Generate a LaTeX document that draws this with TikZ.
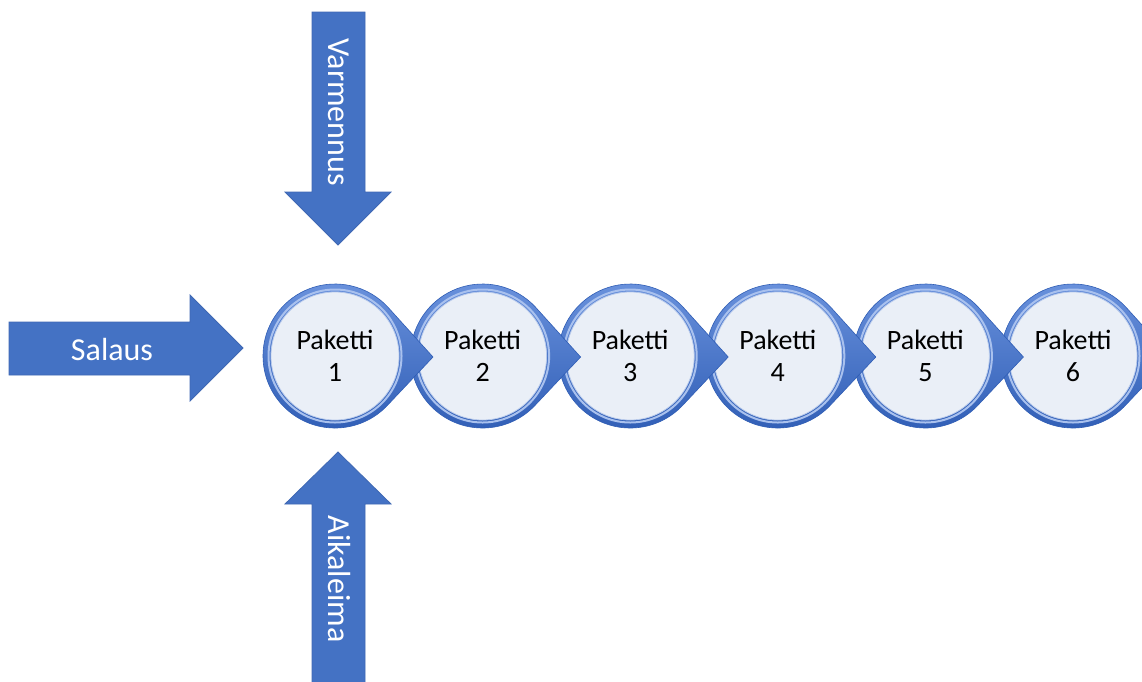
\documentclass[tikz,border=0pt]{standalone}
\usepackage{fontspec}
\setmainfont{Carlito}
\definecolor{arrowblue}{HTML}{4472C4}
\definecolor{arrowedge}{HTML}{3F68B3}
\definecolor{ringtop}{HTML}{6A92DD}
\definecolor{ringbot}{HTML}{2F5DB5}
\definecolor{ringhi}{HTML}{A9C1EE}
\definecolor{innerfill}{HTML}{EAEFF7}
\definecolor{inneredge}{HTML}{B8CAEB}
\begin{document}
\begin{tikzpicture}[x=1pt,y=-1pt,
  bigarrow/.style={fill=arrowblue, draw=arrowedge, line width=0.8pt},
  arrowtext/.style={text=white, font=\fontsize{32}{36}\selectfont, inner sep=0pt},
  drop/.style={top color=ringtop, bottom color=ringbot, draw=ringbot, line width=0.6pt},
  ringlight/.style={draw=ringhi, line width=2pt},
  innercircle/.style={fill=innerfill, draw=inneredge, line width=0.8pt},
  pktext/.style={text=black, font=\fontsize{28}{32}\selectfont, align=center, inner sep=0pt}
]
\useasboundingbox (0,0) rectangle (1142,681);
\clip (0,0) rectangle (1142,681);
\fill[white] (0,0) rectangle (1142,681);

% side arrows
\draw[bigarrow] (9,322) -- (190,322) -- (190,295) -- (243,348) -- (190,401) -- (190,375) -- (9,375) -- cycle;
\draw[bigarrow] (312,12) -- (365,12) -- (365,192) -- (391,192) -- (338,245) -- (285,192) -- (312,192) -- cycle;
\draw[bigarrow] (312,690) -- (312,504) -- (285,504) -- (338,452) -- (391,504) -- (365,504) -- (365,690) -- cycle;

\node[arrowtext] (salaus) at (112,349) {Salaus};
\node[arrowtext, rotate=-90] (varmennus) at (339,112) {Varmennus};
\node[arrowtext, rotate=-90] (aikaleima) at (339,579) {Aikaleima};

% packets, drawn from last to first so each pointer lies on the next circle
\foreach \k in {6,5,4,3,2,1}{
  \pgfmathsetmacro{\cx}{335+147.6*(\k-1)}
  \coordinate (c\k) at (\cx,356);
  \coordinate (t\k) at (\cx+98,357);
  \path[drop] (t\k) -- ([shift={(c\k)}]42.72:72) arc[start angle=42.72, end angle=317.28, radius=72] -- cycle;
  \draw[ringlight] (c\k) circle (66.5);
  \draw[innercircle] (c\k) circle (64);
  \node[pktext] (p\k) at (c\k) {Paketti\\\k};
}
\end{tikzpicture}
\end{document}
